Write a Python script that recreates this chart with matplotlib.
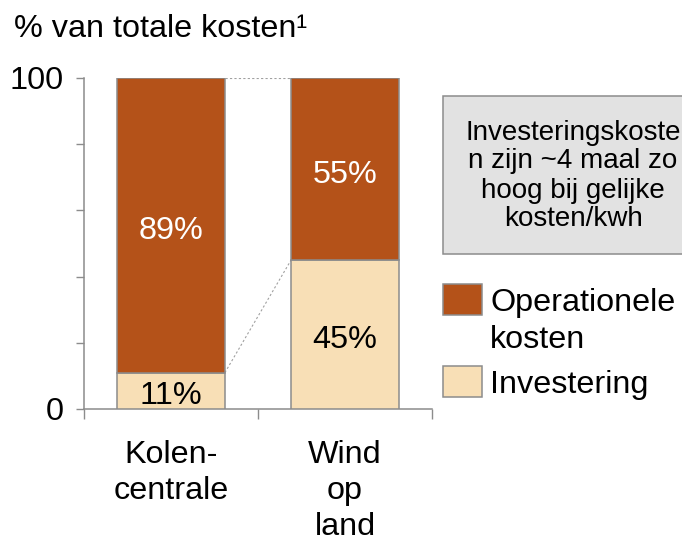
import matplotlib
matplotlib.use("Agg")
import matplotlib.pyplot as plt
from matplotlib.patches import Rectangle

plt.rcParams['font.family'] = ['Liberation Sans', 'DejaVu Sans']

# data
categories = ["Kolen-\ncentrale", "Wind\nop\nland"]
investering = [11, 45]
operationeel = [89, 55]
legend_labels = ["Operationele\nkosten", "Investering"]
note = "Investeringskoste\nn zijn ~4 maal zo\nhoog bij gelijke\nkosten/kwh"

dark = "#B45219"
light = "#F8DFB6"
grey = "#8C8C8C"
fs = 23.3

fig = plt.figure(figsize=(6.82, 5.42), dpi=100)
ax = fig.add_axes([84 / 682, 1 - 409 / 542, 348 / 682, 331 / 542])

x = list(range(len(categories)))
w = 0.62
ax.bar(x, investering, width=w, color=light, edgecolor=grey, linewidth=1.1, zorder=3)
ax.bar(x, operationeel, width=w, bottom=investering, color=dark, edgecolor=grey,
       linewidth=1.1, zorder=3)

for i in x:
    ax.annotate(f"{investering[i]}%", (i, investering[i] / 2), xytext=(0, -4),
                textcoords='offset points', ha='center', va='center',
                fontsize=fs, color='black', zorder=4)
    ax.annotate(f"{operationeel[i]}%", (i, investering[i] + operationeel[i] / 2),
                xytext=(0, -4), textcoords='offset points', ha='center',
                va='center', fontsize=fs, color='white', zorder=4)

# dotted connectors between the bars
tops = [investering[i] + operationeel[i] for i in x]
ax.plot([x[0] + w / 2, x[1] - w / 2], [tops[0], tops[1]], ls=(0, (2, 2)),
        color="#A0A0A0", lw=0.8, zorder=2)
ax.plot([x[0] + w / 2, x[1] - w / 2], [investering[0], investering[1]], ls=(0, (2, 2)),
        color="#A0A0A0", lw=0.8, zorder=2)

ax.set_xlim(-0.5, 1.5)
ax.set_ylim(0, 100)
ax.set_yticks([0, 20, 40, 60, 80, 100])
ax.set_yticklabels(["0", "", "", "", "", "100"])
ax.set_xticks([-0.5, 0.5, 1.5])
ax.set_xticklabels([])
ax.tick_params(axis='y', length=6, width=1, color=grey, labelsize=fs, pad=8.5)
ax.tick_params(axis='x', length=7, width=1, color=grey)
for s in ['top', 'right']:
    ax.spines[s].set_visible(False)
for s in ['left', 'bottom']:
    ax.spines[s].set_color(grey)
    ax.spines[s].set_linewidth(1.1)

for i, c in enumerate(categories):
    ax.annotate(c, (i, 0), xytext=(0, -22), textcoords='offset points',
                ha='center', va='top', fontsize=fs, linespacing=1.28,
                annotation_clip=False)

fig.text(14 / 682, 1 - 37 / 542, "% van totale kosten\u00b9", fontsize=fs, va='baseline')

# note box
fig.patches.append(Rectangle((443 / 682, 1 - 254 / 542), 0.4, 158 / 542,
                             transform=fig.transFigure, facecolor="#E2E2E2",
                             edgecolor=grey, linewidth=1.1))
fig.text(573 / 682, 1 - 176 / 542, note, ha='center', va='center', fontsize=20,
         linespacing=1.15)

# legend
fig.patches.append(Rectangle((443 / 682, 1 - 315 / 542), 39 / 682, 31 / 542,
                             transform=fig.transFigure, facecolor=dark,
                             edgecolor=grey, linewidth=1.1))
fig.patches.append(Rectangle((443 / 682, 1 - 397 / 542), 39 / 682, 31 / 542,
                             transform=fig.transFigure, facecolor=light,
                             edgecolor=grey, linewidth=1.1))
fig.text(490 / 682, 1 - 288 / 542, legend_labels[0], fontsize=fs, va='top',
         linespacing=1.32)
fig.text(490 / 682, 1 - 370 / 542, legend_labels[1], fontsize=fs, va='top')

fig.savefig("out.png", dpi=100)
